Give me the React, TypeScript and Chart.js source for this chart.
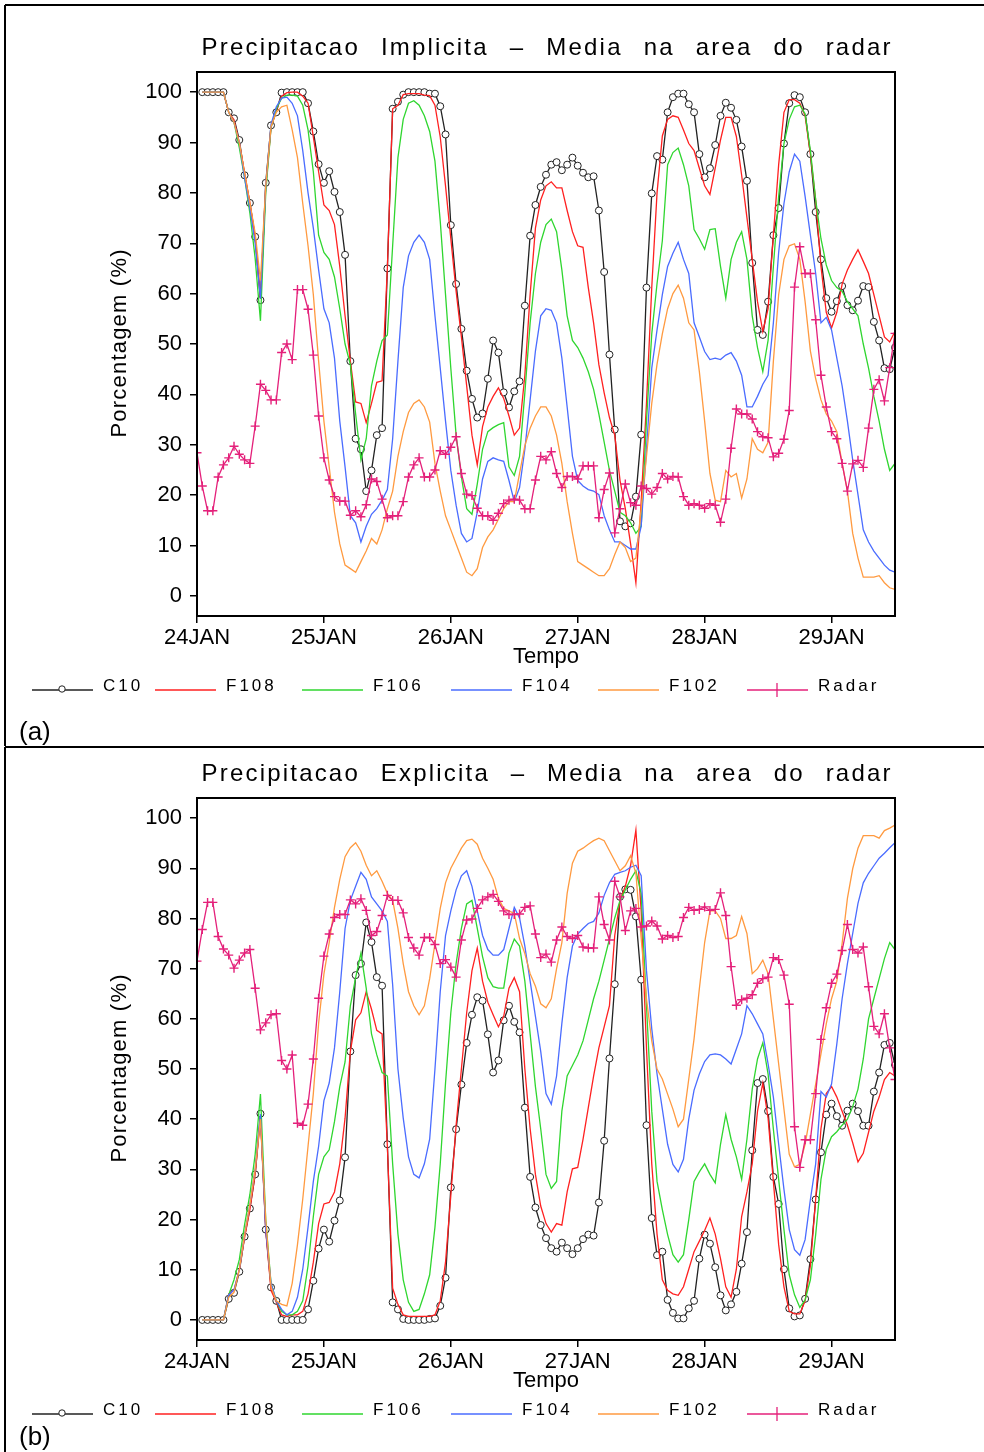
import React, { useEffect, useRef } from "react";
import { Chart, registerables } from "chart.js";
Chart.register(...registerables);

const FONT = '"Liberation Sans", Arial, sans-serif';

// ---- axes ----
const X_TICKS = [0, 24, 48, 72, 96, 120];
const X_TICK_LABELS = [["24JAN", "2004"], ["25JAN"], ["26JAN"], ["27JAN"], ["28JAN"], ["29JAN"]];
const Y_TICKS = [0, 10, 20, 30, 40, 50, 60, 70, 80, 90, 100];
const SERIES_NAMES = ["C10", "F108", "F106", "F104", "F102", "Radar"];
const MODEL_START_HOUR = 1; // model series start at hour 1
const RADAR_START_HOUR = 0; // radar starts at hour 0

// ---- (a) Precipitacao Implicita ----
const C10_A = [100,100,100,100,100,96,94.8,90.5,83.5,78,71.3,58.7,82,93.4,96,99.9,100,100,100,100,97.8,92.2,85.7,82,84.3,80.2,76.2,67.7,46.6,31.2,29.1,20.8,24.9,31.9,33.3,65,96.7,98.1,99.5,100,100,100,100,99.7,
99.7,97.2,91.6,73.6,61.9,53,44.7,39.1,35.4,36.2,43.1,50.7,48.3,40.4,37.4,40.6,42.6,57.6,71.5,77.6,81.2,83.6,85.6,86.1,84.5,85.6,87,85.4,84,83.1,83.3,76.5,64.3,47.9,33,14.8,13.8,14.4,19.7,32,61.2,79.9,87.3,86.6,
96,99,99.7,99.7,97.6,96,87.7,83.1,84.9,89.5,95.3,97.9,96.9,94.5,89.2,82.4,66.1,52.8,51.8,58.4,71.6,77,89.8,97.8,99.4,99,96,87.7,76.2,66.8,59.1,56.4,58.5,61.5,57.7,56.7,58.6,61.5,61.3,54.4,50.7,45.2,45,49.3];
const F108_A = [100,100,100,100,100,96,94.5,90,84,78,71,59,81,93,96.4,99.2,99.9,100,100,99.2,97.8,91.1,84.2,77.6,76.5,73.7,65.4,55.6,46.6,38.5,38.2,34.4,38.2,42.4,42.7,65,96.7,97.4,99.5,99.7,99.7,99.7,99.4,99.3,
97.4,91.1,81.4,70.9,60.5,51.4,41.7,31.9,26,33.6,37.5,39.6,41.3,39.2,35.7,31.9,33.3,43.8,59.8,73,78.6,81.4,82.2,81,81,76.5,72.3,69.5,69.2,61.2,54.2,45.9,40.3,35.4,31.9,22.9,17.3,10.3,2.6,18.7,38.2,61.2,80,91.3,
94.6,95.3,95,92.5,89.8,88.4,84.9,81.4,79.7,84.9,90.5,95,95,91.2,83.5,75.1,66.8,58.4,52.5,57,71.6,85.6,96,98.5,98.5,97.8,95.3,87.7,78.6,65.4,56.3,53.2,56.3,61.9,64.7,66.8,68.7,66.4,64,59.8,55.6,51.4,50.4,52.5];
const F106_A = [100,100,100,100,100,96,94,89,83,76,67,54.6,80,93,96.7,98.8,99.4,99.4,99.2,97.4,92.5,84.2,71.6,68.2,66.8,63.3,57,50,45.9,36.1,27,31.2,41.7,46.6,50.7,51.8,69.5,87,94.6,97.8,98.3,97.4,95.3,92.2,
86.3,74.4,59.8,45.2,31.9,23.6,17.3,16.2,22.2,29.1,32.6,33.4,34,34.4,25.6,23.9,27.7,40.3,54.2,64,70.2,73.7,74.8,72.3,64.7,55.6,50.7,49.3,47.2,44.5,41,36.1,30.5,24.9,20.8,16.6,15.9,14.5,12.4,13.8,34.7,52,62,70.5,
85.6,88,88.9,85.6,81.4,72.7,70.9,68.8,72.7,72.9,65.4,59.1,66.8,70.2,72.3,66.8,55.6,49.3,44.5,50.7,65.4,79.3,89.8,94.6,97.1,97.4,95.7,88.4,78.6,70.9,65.7,62.6,61.2,60.5,58.4,57,55.6,50,45.2,39.6,34.7,29.1,24.9,26.3];
const F104_A = [100,100,100,100,100,96,94,90,83,77,70,59,81.4,93.6,97.1,98.8,99,97.8,95.3,88.4,80,73,64.7,57,54.2,47.2,34.7,25.6,15.9,14.5,10.7,13.8,16.2,17.3,19,21.1,31.2,46.6,61.2,67.5,70.2,71.6,70.2,66.8,
55.6,45.2,34.7,24.9,18,12.4,10.7,11.4,16.6,23.2,26.7,27.4,27,26.7,22.9,18.7,21.5,29.1,38.9,48.6,55.6,57,56.7,54.2,47.2,37.5,27.7,22.9,21.8,21.1,20.8,20.1,15.9,13.1,10.7,10.7,10,9.3,9.3,13.8,29.1,45.2,52.8,59.8,
65.4,68,70.2,66.8,64,54.2,51.4,48.5,46.9,47.2,46.9,47.8,48.3,46.6,43.8,37.5,37.5,39.6,42,43.8,54.2,68.2,77.9,84.2,87.7,86.3,79.3,71.6,64,54.2,55.3,52.8,47.2,41.7,34.7,27,20.1,13.1,10.7,8.9,7.5,6.1,5.1,4.7];
const F102_A = [100,100,100,100,100,96,94,90,84,78,72,62.6,81.4,93.2,96,97.1,97.4,92.5,87,77.9,69.5,59.8,46.6,34.7,25.6,16.6,10.3,6.1,5.4,4.7,6.8,8.9,11.4,10.3,13.1,17.3,20.8,27.7,32.6,36.4,38.2,38.9,37.5,34.5,
26.3,20.8,15.9,13.1,10.3,7.5,4.7,4,5.4,9.6,11.7,13.1,15.2,17.3,18.7,18.7,24.3,29.8,33.3,35.7,37.5,37.5,35.7,31.9,26.3,18.7,12.4,6.8,6.1,5.4,4.7,4,4,5.4,8.2,10.7,9.6,6.8,7.5,17.3,27.7,38.2,46,52,
57,60,61.7,59.1,54.2,52.8,44.5,34.7,24.3,19,18.7,24.9,23.6,24.3,19.4,23.2,31.2,29.1,28.4,30.5,46.6,59.8,66.8,69.5,69.9,66.8,58.4,48.6,43.1,38.9,36.1,34.7,32.6,26.3,20.8,12.4,7.5,3.7,3.7,3.7,4,2.6,1.6,1.3];
const RADAR_A = [28.4,21.8,16.9,16.9,23.6,26,27.4,29.7,28.1,27,26.3,33.7,42,40.8,38.9,38.9,48.3,50,46.9,60.8,60.8,56.9,47.8,35.7,27.4,23,19.7,18.8,18.8,16,16.9,15.7,18.1,23.2,22.7,19.2,15.5,15.9,15.9,18.7,23.6,26,27.4,23.6,23.6,
25,28.8,28.1,29.5,31.6,24.3,20.2,19.9,17.4,15.9,15.9,15,16.4,18.3,19,19.2,19,17.3,17.3,23,27.7,27,28.6,24.3,21.5,23.7,23.7,23.2,25.8,25.8,25.8,15.5,21.1,24.4,12.5,17.3,22.2,18.5,18,21.8,21.3,20.2,21.5,24.3,
23.2,23.7,23.6,19.7,18,18.3,18,17.4,18.3,18,14.6,19.2,29.3,37.1,36.1,36.1,35.1,32.6,31.6,31.4,27.6,28.3,31.1,36.8,61.3,69.3,64,64,54.8,43.8,37.5,32.6,31.2,26.3,20.8,26.2,26.9,25.5,33.3,41,42.9,38.7,45.3,52.1];

// ---- (b) Precipitacao Explicita ----
const C10_B = [0,0,0,0,0,4.2,5.4,9.6,16.6,22.2,29,41.1,18,6.5,3.8,0,0,0,0,0,2.1,7.8,14.2,18,15.6,19.8,23.8,32.4,53.5,68.7,71,79.2,75.3,68.3,66.6,35,3.5,2.1,0.2,0,0,0,0,0.2,
0.3,2.8,8.4,26.4,38,46.9,55.2,60.8,64.3,63.6,56.9,49.3,51.7,59.7,62.6,59.4,57.3,42.3,28.5,22.4,18.9,16.3,14.3,13.6,15.4,14.3,13.1,14.3,16.1,17,16.8,23.4,35.7,52.1,66.9,84.3,85.8,85.7,80.4,67.8,38.8,20.3,12.9,13.6,
4,1.4,0.3,0.3,2.3,3.8,12.2,17,15.2,10.5,4.9,1.9,3.1,5.6,11.2,17.5,33.8,47.2,48,41.6,28.5,23.1,10.1,2.3,0.7,0.9,4.2,12.1,24,33.4,40.9,43.1,40.6,38.7,41.7,43.1,41.6,38.7,38.7,45.5,49.3,54.8,55.2,50.8];
const F108_B = [0,0,0,0,0,5.2,5.9,10,16.4,22,29,40.2,17.8,5.9,3.5,1,0.7,1,1,1.7,5.2,11.5,19.2,23.1,23.4,25.5,31.1,40.2,53.5,59.8,61.2,65.4,61.9,57.7,57,34.6,6.3,3.1,1,0.7,0.7,0.7,0.7,0.7,
1,3.8,11.5,24.8,38.8,50,61.2,69.6,74.1,67.5,63.3,60.8,58.4,60.5,66.1,68.2,65.4,50,38.1,29,22.7,19.2,17.5,19.2,18.9,25.5,30.1,30.4,36,42.3,48.6,54.2,58.4,62.6,76.6,83.6,86.4,90.6,97.6,81.5,54.2,31.1,17.1,8,
5.9,5.2,4.9,6.6,10.1,13.6,15.7,17.8,20.3,17.1,12.2,6.6,4.5,10.1,20.6,25.5,31.1,41.6,47.2,40.2,27.6,15,6.6,1.7,1.2,1.2,3.8,10.8,24.1,38.1,45.1,46.5,44.4,41.6,38.8,35.3,31.5,33.2,37.4,41.6,44.4,47.9,49.3,48.6];
const F106_B = [0,0,0,0,0,5,8,12,19,25,33,45,20,7.3,3.8,1.7,1,1,1.7,3.8,10.8,20.6,29,32.5,33.9,39.5,46.5,51.4,62.6,68.2,73.1,66.1,57,52.8,49.3,48.6,31.1,17.1,8,3.5,1.7,2.1,5.2,9,
18.5,31.1,47.2,61.2,71,78,82.9,83.6,78,72.4,68.2,66.4,66.1,66.1,73.1,75.9,74.5,67.5,57,46.5,38.1,29,26.2,27.6,41.6,48.6,50.7,52.8,55.6,59.8,64,67.5,71.7,75.9,80.1,83.6,85.7,87.8,89.5,85,62.6,41.6,27.6,22,
17,13,11.5,13,20,27.6,29.5,31.1,29,27.3,35,40.9,36,32.5,28,36,46,52,55.2,49,38,28,18,9,5,2.5,4,8,17,28,34,36.5,37.5,38.8,40,42.5,46,52,60,64,68,72,75.2,73.8];
const F104_B = [0,0,0,0,0,5,6,10,17,23,30,41,18,7.3,3.8,2.1,1,1.7,4.5,10.1,18.5,27.6,34.6,43.7,47.2,54.2,65.4,78,83.6,86.4,89.2,87.8,84.3,82.9,81.5,79.4,66.8,50,40.2,32.5,29,28.3,31.1,36,
50,65.4,76.6,81.5,85.7,88.5,89.5,86.4,81.5,76.6,73.8,72.7,72.7,73.8,78,82.2,80.1,74.5,67.5,60.5,53.5,45.1,43,48.6,59.1,68.2,74.5,76.9,78,79,79.4,81.1,84.6,87.1,88.8,89.2,89.5,90.2,90.6,88.5,69.6,58,49,42,
35,31,29.5,32,40,45.8,49,51.5,52.8,53,52.8,52,51,54,57,62.6,61,59,57,51,44.4,35,26,18,14,12.9,16,24,31.1,45.5,44.4,47,55,64,71,77,83,87.1,89,90.5,92,93,94.1,95.1];
const F102_B = [0,0,0,0,0,4.5,5.5,10,17,23,30,40,20,6.6,3.8,3.1,2.8,7.3,15,24.1,34.6,45.1,59.1,68.9,75.2,82.2,87.8,92.3,94.1,95.1,93.4,90.6,88.5,89.5,87.4,85,83.6,78,71,65.4,62.6,60.8,62.6,68,
75,82,87.1,90,92,94,95.5,95.8,94.8,92,90,87.8,84,82,81.5,81,76,73,69,66.5,63,62.2,64,70,75.2,85,91,93.4,94,94.8,95.5,96,95.5,93.5,91.5,89.5,90.5,92.5,89,76,64,55.6,50,48,
45,42,38.5,40,48,56,66,75.2,81.5,81.5,80,76,76,76.6,80.4,77,69,70,71.7,69,60,51,42,33,30.5,31,35,41,47,53,59,64,67.5,75,84,89.9,94,96.5,96.5,96.5,96,97.5,98,98.6];
const RADAR_B = [71.5,77.8,83.2,83.2,76.4,73.9,72.7,70.1,71.7,73.1,73.8,66.1,57.8,59.2,60.8,61,51.7,50,52.8,39.2,38.8,43,52,64.1,72.5,76.9,80.2,80.8,80.8,83.7,82.9,83.9,81.6,76.6,77.4,80.6,84.6,83.6,83.6,81.1,76.2,74.1,72.7,76.2,76.2,
74.8,71,71.8,70.3,68.3,75.7,79.7,79.9,82,83.7,84.3,84.8,83.4,81.5,80.8,80.8,80.9,82.2,82.5,76.9,72.2,72.9,71.3,75.7,78.3,76.4,76,76.6,74.3,74.1,74.1,84.3,78.8,75.7,87.4,84.3,77.6,81.5,82,78.3,78.5,79.5,78.5,75.9,
76.6,76.2,76.4,80.2,82.2,81.6,81.8,82.3,81.6,81.8,85.1,80.6,70.4,62.7,63.8,64.1,64.8,67.1,68,68.3,72.2,71.8,68.7,62.9,38.5,30.4,35.9,35.9,45.1,55.9,62.2,67.1,68.9,73.6,78.8,73.8,73.1,74.3,66.4,58.5,57,61,54.2,47.9];

// ---- styles ----
const COLORS: Record<string, string> = {
  C10: "#222222",
  F108: "#ff2020",
  F106: "#2fd62f",
  F104: "#4a6cff",
  F102: "#ff9a40",
  Radar: "#e4207a",
};
const LEGEND_X = [32, 155, 302, 451, 598, 747];

type PanelDef = {
  title: string;
  tag: string;
  top: number;
  height: number;
  plotTop: number;
  plotBottom: number;
  tagY: number;
  drawTopBorderAt: number;
  values: number[][]; // C10, F108, F106, F104, F102
  radar: number[];
};

// draws text centred at (x, y), stretching the gaps between words to reach the given width
function fitWords(ctx: CanvasRenderingContext2D, text: string, x: number, y: number, width: number, letter: number) {
  (ctx as any).letterSpacing = `${letter}px`;
  (ctx as any).wordSpacing = "0px";
  const w = ctx.measureText(text).width - letter;
  const gaps = text.split(" ").length - 1;
  const ws = gaps > 0 ? Math.max(0, (width - w) / gaps) : 0;
  (ctx as any).wordSpacing = `${ws}px`;
  ctx.textAlign = "left";
  ctx.fillText(text, x - width / 2, y);
  (ctx as any).letterSpacing = "0px";
  (ctx as any).wordSpacing = "0px";
}

function Panel({ def }: { def: PanelDef }) {
  const ref = useRef<HTMLCanvasElement>(null);
  useEffect(() => {
    const canvas = ref.current!;
    const W = 984;
    const H = def.height;
    const order = [5, 4, 3, 2, 1];
    const datasets: any[] = def.values.map((vals, si) => {
      const name = SERIES_NAMES[si];
      const isC10 = name === "C10";
      return {
        label: name,
        data: vals.map((v, i) => ({ x: i + MODEL_START_HOUR, y: v })),
        borderColor: COLORS[name],
        backgroundColor: isC10 ? "#ffffff" : COLORS[name],
        borderWidth: 1.3,
        pointRadius: isC10 ? 3.5 : 0,
        pointStyle: "circle",
        pointBorderWidth: 1,
        pointBorderColor: COLORS[name],
        pointBackgroundColor: "#ffffff",
        tension: 0,
        order: order[si],
      };
    });
    datasets.push({
      label: "Radar",
      data: def.radar.map((v, i) => ({ x: i + RADAR_START_HOUR, y: v })),
      borderColor: COLORS.Radar,
      backgroundColor: COLORS.Radar,
      borderWidth: 1.3,
      pointRadius: 4.5,
      pointStyle: "cross",
      pointBorderWidth: 1.4,
      pointBorderColor: COLORS.Radar,
      tension: 0,
      order: 0,
    });

    const framePlugin = {
      id: "frame",
      afterDraw(chart: any) {
        const ctx: CanvasRenderingContext2D = chart.ctx;
        const { left, top, right, bottom } = chart.chartArea;
        ctx.save();
        // plot box
        ctx.strokeStyle = "#000";
        ctx.lineWidth = 2;
        ctx.strokeRect(left, top, right - left, bottom - top);
        // page borders
        ctx.beginPath();
        ctx.moveTo(5, def.drawTopBorderAt);
        ctx.lineTo(W, def.drawTopBorderAt);
        ctx.moveTo(5, def.drawTopBorderAt);
        ctx.lineTo(5, H);
        ctx.stroke();
        ctx.fillStyle = "#000";
        ctx.textBaseline = "middle";
        // title
        ctx.font = `24px ${FONT}`;
        fitWords(ctx, def.title, 546, top - 24, 689, 2.2);
        // y title
        ctx.save();
        ctx.translate(120, (top + bottom) / 2);
        ctx.rotate(-Math.PI / 2);
        ctx.font = `22px ${FONT}`;
        fitWords(ctx, "Porcentagem (%)", 0, 0, 187, 1.2);
        ctx.restore();
        // x title
        ctx.font = `22px ${FONT}`;
        ctx.textAlign = "center";
        ctx.fillText("Tempo", 546, bottom + 41);
        // legend
        const ly = bottom + 70;
        ctx.font = `17px ${FONT}`;
        SERIES_NAMES.forEach((name, i) => {
          const x0 = LEGEND_X[i];
          ctx.strokeStyle = COLORS[name];
          ctx.lineWidth = 1.3;
          ctx.beginPath();
          ctx.moveTo(x0, ly + 4);
          ctx.lineTo(x0 + 61, ly + 4);
          ctx.stroke();
          if (name === "C10") {
            ctx.fillStyle = "#fff";
            ctx.beginPath();
            ctx.arc(x0 + 30, ly + 3, 3.2, 0, Math.PI * 2);
            ctx.fill();
            ctx.lineWidth = 1;
            ctx.stroke();
          }
          if (name === "Radar") {
            ctx.beginPath();
            ctx.moveTo(x0 + 30, ly - 3);
            ctx.lineTo(x0 + 30, ly + 11);
            ctx.stroke();
          }
          ctx.fillStyle = "#000";
          ctx.textAlign = "left";
          (ctx as any).letterSpacing = "3px";
          ctx.fillText(name, x0 + 71, ly);
          (ctx as any).letterSpacing = "0px";
        });
        // panel tag
        ctx.font = `26px Arial, ${FONT}`;
        ctx.textAlign = "left";
        ctx.fillText(def.tag, 19, def.tagY);
        ctx.restore();
      },
    };

    const chart = new Chart(canvas, {
      type: "line",
      data: { datasets },
      options: {
        animation: false,
        responsive: false,
        maintainAspectRatio: false,
        devicePixelRatio: 1,
        events: [],
        layout: { padding: { left: 0, right: W - 895, top: def.plotTop, bottom: H - def.plotBottom - 30 } },
        plugins: { legend: { display: false }, tooltip: { enabled: false }, title: { display: false } },
        scales: {
          x: {
            type: "linear",
            min: 0,
            max: 132,
            afterBuildTicks: (s: any) => {
              s.ticks = X_TICKS.map((v) => ({ value: v }));
            },
            afterFit: (s: any) => {
              s.height = 30;
            },
            grid: { display: true, drawOnChartArea: false, drawTicks: true, tickLength: 7, color: "#000", lineWidth: 1.5 },
            border: { display: false },
            ticks: {
              color: "#000",
              font: { family: FONT, size: 22, lineHeight: 1.05 },
              padding: 3,
              maxRotation: 0,
              autoSkip: false,
              callback: (v: any) => {
                const idx = X_TICKS.indexOf(Number(v));
                return idx >= 0 ? X_TICK_LABELS[idx] : "";
              },
            },
          },
          y: {
            type: "linear",
            min: -4,
            max: 104,
            afterBuildTicks: (s: any) => {
              s.ticks = Y_TICKS.map((v) => ({ value: v }));
            },
            afterFit: (s: any) => {
              s.width = 197;
            },
            grid: { display: true, drawOnChartArea: false, drawTicks: true, tickLength: 7, color: "#000", lineWidth: 1.5 },
            border: { display: false },
            ticks: {
              color: "#000",
              font: { family: FONT, size: 22 },
              padding: 8,
              callback: (v: any) => String(v),
            },
          },
        },
      } as any,
      plugins: [framePlugin],
    });
    return () => chart.destroy();
  }, [def]);
  return (
    <canvas
      ref={ref}
      width={984}
      height={def.height}
      style={{ position: "absolute", left: 0, top: def.top, width: 984, height: def.height, display: "block" }}
    />
  );
}

const PANEL_A: PanelDef = {
  title: "Precipitacao Implicita \u2013 Media na area do radar",
  tag: "(a)",
  top: 0,
  height: 746,
  plotTop: 72,
  plotBottom: 616,
  tagY: 733,
  drawTopBorderAt: 5,
  values: [C10_A, F108_A, F106_A, F104_A, F102_A],
  radar: RADAR_A,
};
const PANEL_B: PanelDef = {
  title: "Precipitacao Explicita \u2013 Media na area do radar",
  tag: "(b)",
  top: 746,
  height: 706,
  plotTop: 52,
  plotBottom: 594,
  tagY: 692,
  drawTopBorderAt: 1,
  values: [C10_B, F108_B, F106_B, F104_B, F102_B],
  radar: RADAR_B,
};

export default function App() {
  return (
    <div style={{ position: "absolute", left: 0, top: 0, width: 984, height: 1452, background: "#fff", overflow: "hidden" }}>
      <Panel def={PANEL_A} />
      <Panel def={PANEL_B} />
    </div>
  );
}
